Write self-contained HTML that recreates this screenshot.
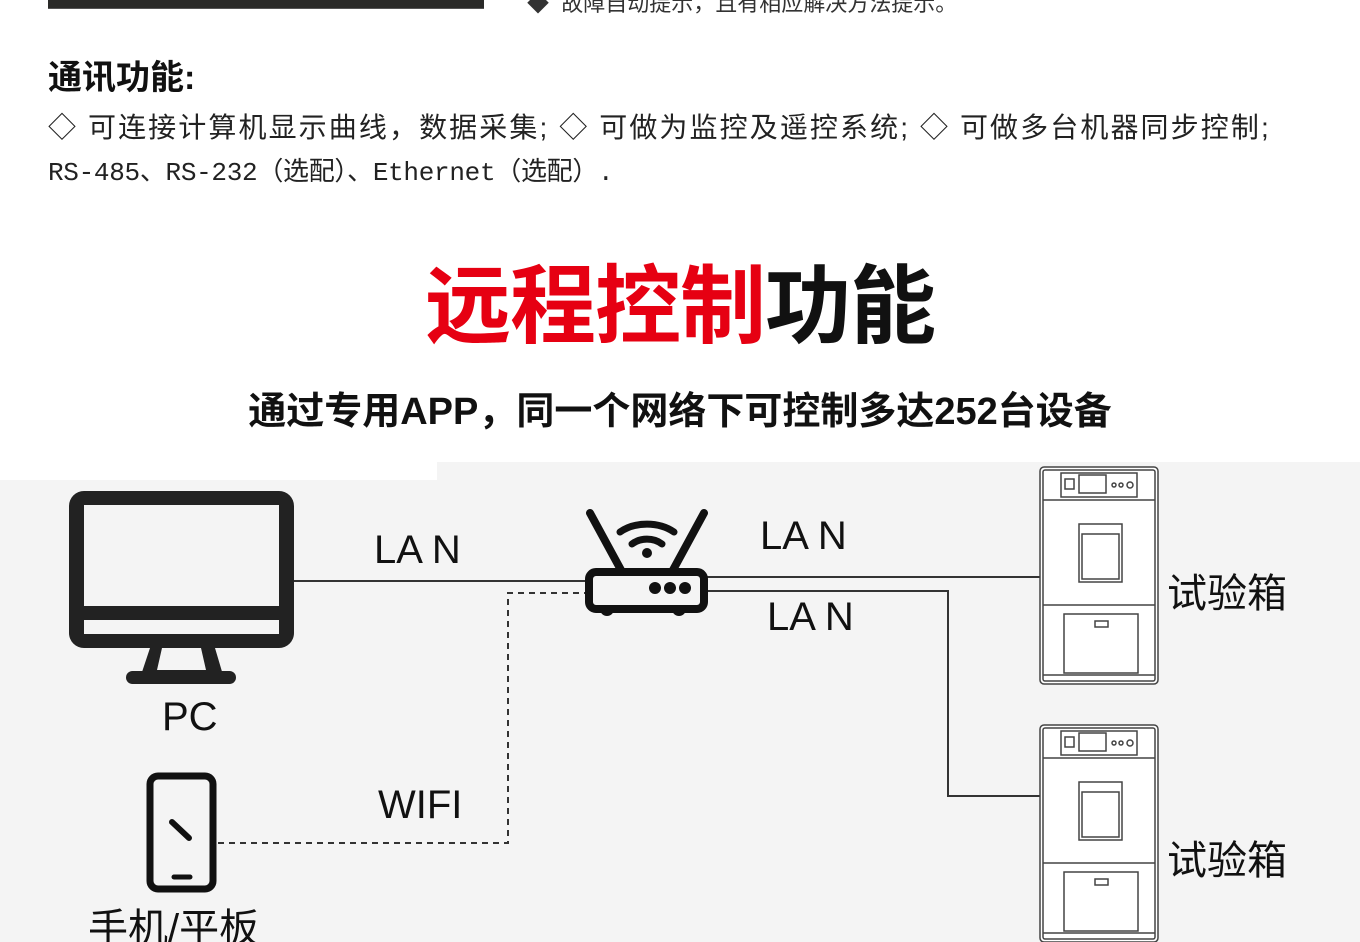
<!DOCTYPE html>
<html><head><meta charset="utf-8"><style>
body{margin:0;width:1360px;height:942px;overflow:hidden;background:#fff;font-family:"Liberation Sans","Noto Sans CJK SC",sans-serif;position:relative}
.a{position:absolute;white-space:nowrap}
</style></head><body>
<div class="a" style="left:48px;top:0;width:436px;height:8px;background:#2a2a28;border-bottom:1px solid #555"></div>
<div class="a" style="left:527px;top:-14px;font-size:22px;color:#333">◆&nbsp; 故障自动提示，且有相应解决方法提示。</div>
<div class="a" style="left:48px;top:50px;font-size:34px;font-weight:bold;color:#111">通讯功能:</div>
<div class="a" style="left:48px;top:106px;font-size:28px;color:#222;letter-spacing:2.1px">◇ 可连接计算机显示曲线，数据采集; ◇ 可做为监控及遥控系统; ◇ 可做多台机器同步控制;</div>
<div class="a" style="left:48px;top:151px;font-size:26px;color:#222;font-family:'Liberation Mono','Noto Sans CJK SC',monospace;letter-spacing:-0.3px">RS-485、RS-232（选配）、Ethernet（选配）.</div>
<div class="a" style="left:0;width:1360px;text-align:center;top:236px;font-size:86px;font-weight:bold;color:#111;letter-spacing:-1px"><span style="color:#e60012">远程控制</span>功能</div>
<div class="a" style="left:0;width:1360px;text-align:center;top:380px;font-size:38px;font-weight:bold;color:#111">通过专用APP，同一个网络下可控制多达252台设备</div>
<div class="a" style="left:437px;top:462px;width:923px;height:480px;background:#f4f4f4"></div>
<div class="a" style="left:0;top:480px;width:437px;height:462px;background:#f4f4f4"></div>
<svg class="a" style="left:0;top:0" width="1360" height="942">
<g stroke="#333" stroke-width="2" fill="none">
<line x1="293" y1="581" x2="585" y2="581"/>
<polyline points="218,843 508,843 508,593 585,593" stroke-dasharray="6,5"/>
<line x1="706" y1="577" x2="1040" y2="577"/>
<polyline points="706,591 948,591 948,796 1040,796"/>
</g>
<g fill="#222">
<path d="M84,491h195a15,15 0 0 1 15,15v127a15,15 0 0 1-15,15H84a15,15 0 0 1-15-15V506a15,15 0 0 1 15-15zM84,505v101h195V505zM84,620v14h195v-14z" fill-rule="evenodd"/>
<path d="M150,648h65l8,27h-82zM162,648l-5,22h49l-5-22z" fill-rule="evenodd"/>
<rect x="126" y="671" width="110" height="13" rx="6.5"/>
</g>
<rect x="150" y="776" width="63" height="113" rx="8" fill="none" stroke="#111" stroke-width="7"/>
<line x1="172" y1="822" x2="189" y2="838" stroke="#111" stroke-width="6" stroke-linecap="round"/>
<line x1="174" y1="877" x2="190" y2="877" stroke="#111" stroke-width="5" stroke-linecap="round"/>
<g stroke="#111" fill="none" stroke-linecap="round">
<line x1="590" y1="513" x2="621" y2="570" stroke-width="8"/>
<line x1="704" y1="513" x2="673" y2="570" stroke-width="8"/>
<rect x="589" y="572" width="115" height="37" rx="7" stroke-width="8"/>
<path d="M620,532 a40,30 0 0 1 54,0" stroke-width="7"/>
<path d="M632,544 a22,18 0 0 1 30,0" stroke-width="7"/>
</g>
<g fill="#111">
<circle cx="647" cy="553" r="5"/>
<circle cx="655" cy="588" r="6"/><circle cx="670" cy="588" r="6"/><circle cx="685" cy="588" r="6"/>
<path d="M600,609h14a7,7 0 0 1-14,0zM672,609h14a7,7 0 0 1-14,0z"/>
</g>
<g id="ch" stroke="#444" fill="#fff" stroke-width="1.5">
<rect x="1040" y="467" width="118" height="217" rx="4"/>
<rect x="1043" y="470" width="112" height="211" rx="2" fill="none"/>
<line x1="1043" y1="500" x2="1155" y2="500"/>
<line x1="1043" y1="605" x2="1155" y2="605"/>
<line x1="1043" y1="675" x2="1155" y2="675"/>
<rect x="1061" y="473" width="76" height="24"/>
<rect x="1065" y="479" width="9" height="10"/>
<rect x="1079" y="475" width="27" height="18"/>
<circle cx="1114" cy="485" r="2"/><circle cx="1121" cy="485" r="2"/><circle cx="1130" cy="485" r="3"/>
<rect x="1079" y="524" width="43" height="58"/>
<rect x="1082" y="534" width="37" height="45"/>
<rect x="1064" y="614" width="74" height="59"/>
<rect x="1095" y="621" width="13" height="6"/>
</g>
<use href="#ch" y="258"/>
<g font-size="40" fill="#111" font-family="Liberation Sans,sans-serif">
<text x="374" y="563">LA N</text>
<text x="760" y="549">LA N</text>
<text x="767" y="630">LA N</text>
<text x="378" y="818">WIFI</text>
<text x="162" y="730">PC</text>
</g>
<g font-size="40" fill="#111" font-family="Liberation Sans,Noto Sans CJK SC,sans-serif">
<text x="1167" y="607">试验箱</text>
<text x="1167" y="874">试验箱</text>
<text x="88" y="942">手机/平板</text>
</g>
</svg>
</body></html>
